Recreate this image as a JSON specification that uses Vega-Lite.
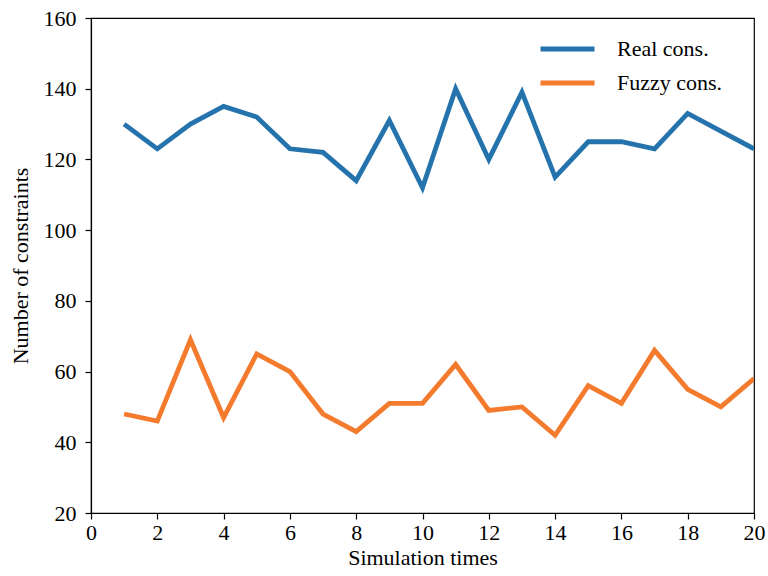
{
  "$schema": "https://vega.github.io/schema/vega-lite/v6.json",
  "autosize": {"type": "none"},
  "width": 663,
  "height": 495,
  "padding": {"left": 91, "top": 18, "right": 14, "bottom": 63},
  "background": "white",
  "config": {
    "font": "Liberation Serif",
    "view": {"stroke": "black", "strokeWidth": 1.2},
    "axis": {
      "domainColor": "black", "tickColor": "black", "labelColor": "black", "titleColor": "black",
      "labelFont": "Liberation Serif", "titleFont": "Liberation Serif",
      "labelFontSize": 22, "titleFontSize": 22, "titleFontWeight": "normal",
      "grid": false, "tickSize": 6, "domainWidth": 1.2, "tickWidth": 1.2
    }
  },
  "data": {
    "values": [
      {"t": 1, "v": 130, "s": "Real cons."},
      {"t": 2, "v": 123, "s": "Real cons."},
      {"t": 3, "v": 130, "s": "Real cons."},
      {"t": 4, "v": 135, "s": "Real cons."},
      {"t": 5, "v": 132, "s": "Real cons."},
      {"t": 6, "v": 123, "s": "Real cons."},
      {"t": 7, "v": 122, "s": "Real cons."},
      {"t": 8, "v": 114, "s": "Real cons."},
      {"t": 9, "v": 131, "s": "Real cons."},
      {"t": 10, "v": 112, "s": "Real cons."},
      {"t": 11, "v": 140, "s": "Real cons."},
      {"t": 12, "v": 120, "s": "Real cons."},
      {"t": 13, "v": 139, "s": "Real cons."},
      {"t": 14, "v": 115, "s": "Real cons."},
      {"t": 15, "v": 125, "s": "Real cons."},
      {"t": 16, "v": 125, "s": "Real cons."},
      {"t": 17, "v": 123, "s": "Real cons."},
      {"t": 18, "v": 133, "s": "Real cons."},
      {"t": 19, "v": 128, "s": "Real cons."},
      {"t": 20, "v": 123, "s": "Real cons."},
      {"t": 1, "v": 48, "s": "Fuzzy cons."},
      {"t": 2, "v": 46, "s": "Fuzzy cons."},
      {"t": 3, "v": 69, "s": "Fuzzy cons."},
      {"t": 4, "v": 47, "s": "Fuzzy cons."},
      {"t": 5, "v": 65, "s": "Fuzzy cons."},
      {"t": 6, "v": 60, "s": "Fuzzy cons."},
      {"t": 7, "v": 48, "s": "Fuzzy cons."},
      {"t": 8, "v": 43, "s": "Fuzzy cons."},
      {"t": 9, "v": 51, "s": "Fuzzy cons."},
      {"t": 10, "v": 51, "s": "Fuzzy cons."},
      {"t": 11, "v": 62, "s": "Fuzzy cons."},
      {"t": 12, "v": 49, "s": "Fuzzy cons."},
      {"t": 13, "v": 50, "s": "Fuzzy cons."},
      {"t": 14, "v": 42, "s": "Fuzzy cons."},
      {"t": 15, "v": 56, "s": "Fuzzy cons."},
      {"t": 16, "v": 51, "s": "Fuzzy cons."},
      {"t": 17, "v": 66, "s": "Fuzzy cons."},
      {"t": 18, "v": 55, "s": "Fuzzy cons."},
      {"t": 19, "v": 50, "s": "Fuzzy cons."},
      {"t": 20, "v": 58, "s": "Fuzzy cons."}
    ]
  },
  "mark": {"type": "line", "strokeWidth": 4.8, "clip": true},
  "encoding": {
    "x": {
      "field": "t", "type": "quantitative",
      "scale": {"domain": [0, 20], "nice": false, "zero": false},
      "axis": {"values": [0, 2, 4, 6, 8, 10, 12, 14, 16, 18, 20], "title": "Simulation times", "titlePadding": 4, "labelPadding": 3, "labelFlush": false}
    },
    "y": {
      "field": "v", "type": "quantitative",
      "scale": {"domain": [20, 160], "nice": false, "zero": false},
      "axis": {"values": [20, 40, 60, 80, 100, 120, 140, 160], "title": "Number of constraints", "titlePadding": 11, "labelPadding": 9, "labelFlush": false}
    },
    "color": {
      "field": "s", "type": "nominal",
      "scale": {"domain": ["Real cons.", "Fuzzy cons."], "range": ["#2573ad", "#f47b2e"]},
      "legend": {
        "title": null, "orient": "none", "legendX": 447, "legendY": 14,
        "symbolType": "stroke", "symbolSize": 2916, "symbolStrokeWidth": 4.8,
        "labelFontSize": 22, "labelFont": "Liberation Serif", "labelColor": "black",
        "labelOffset": 20, "rowPadding": 0, "clipHeight": 34, "labelLimit": 300
      }
    }
  }
}
